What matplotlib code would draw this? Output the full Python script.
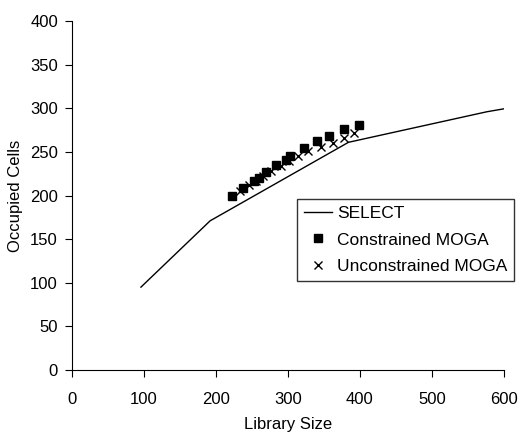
"""Occupied cells vs library size for SELECT and two MOGA variants"""

import matplotlib.pyplot as plt

plt.rcParams['font.family'] = ['Liberation Sans', 'DejaVu Sans']

# SELECT curve
select_size = [96, 192, 384, 576, 604]
select_cells = [95, 171, 261, 296, 300]

# Constrained MOGA points
con_size = [223, 238, 253, 260, 270, 283, 298, 303, 322, 341, 357, 378, 399]
con_cells = [200, 209, 217, 220, 227, 235, 241, 245, 254, 262, 268, 276, 281]

# Unconstrained MOGA points
unc_size = [233, 246, 256, 265, 276, 290, 302, 314, 328, 346, 362, 378, 392]
unc_cells = [205, 212, 217, 222, 228, 234, 239, 245, 251, 256, 260, 266, 272]

fig = plt.figure(figsize=(5.24, 4.34), dpi=100)
ax = fig.add_axes([0.137, 0.1475, 0.825, 0.804])

ax.plot(select_size, select_cells, color='black', linewidth=1, label='SELECT')
ax.plot(con_size, con_cells, linestyle='none', marker='s', markersize=5.5,
        color='black', label='Constrained MOGA')
ax.plot(unc_size, unc_cells, linestyle='none', marker='x', markersize=6,
        markeredgewidth=1, color='black', label='Unconstrained MOGA')

ax.set_xlim(0, 600)
ax.set_ylim(0, 400)
ax.set_xticks(range(0, 601, 100))
ax.set_yticks(range(0, 401, 50))
ax.spines['top'].set_visible(False)
ax.spines['right'].set_visible(False)
ax.tick_params(direction='out', length=5, labelsize=12)
ax.tick_params(axis='x', pad=11)
ax.tick_params(axis='y', pad=5)

ax.set_xlabel('Library Size', fontsize=12, labelpad=7)
ax.set_ylabel('Occupied Cells', fontsize=12, labelpad=5)

leg = ax.legend(loc='upper left', bbox_to_anchor=(0.521, 0.49), fontsize=12.5,
                frameon=True, fancybox=False, edgecolor='black',
                handlelength=1.6, handletextpad=0.3, borderpad=0.4,
                labelspacing=0.65, borderaxespad=0)
leg.get_frame().set_linewidth(1)

fig.savefig('out.png', dpi=100)
